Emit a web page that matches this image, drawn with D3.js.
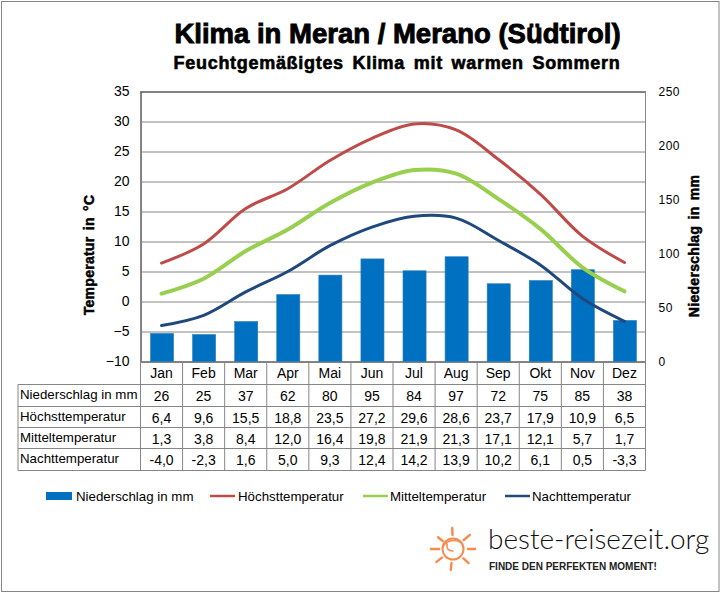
<!DOCTYPE html>
<html>
<head>
<meta charset="utf-8">
<style>
    body { margin: 0; background: #fff; }
    svg { display: block; }
    text { font-family: "Liberation Sans", Arial, sans-serif; fill: #000; }
    .axis path { display: none; }
    .grid line { stroke: #868686; stroke-width: 1px; }
    .grid text { display: none; }
    .cell { font-size: 14px; text-anchor: middle; }
    .rowname { font-size: 13.3px; }
    .axis-title { font-size: 14px; font-weight: bold; stroke: #000; stroke-width: 0.5px; letter-spacing: 0.3px; }
</style>
</head>
<body>
<script src="https://d3js.org/d3.v7.min.js"></script>
<script>
const W = 722, H = 594;
const plot = {left: 140.5, right: 645.5, top: 91.5, bottom: 361.5};

const months = ["Jan","Feb","Mar","Apr","Mai","Jun","Jul","Aug","Sep","Okt","Nov","Dez"];
const rows = [
    {name: "Niederschlag in mm", values: [26,25,37,62,80,95,84,97,72,75,85,38]},
    {name: "Höchsttemperatur", color: "#be4b48", width: 3, values: [6.4,9.6,15.5,18.8,23.5,27.2,29.6,28.6,23.7,17.9,10.9,6.5]},
    {name: "Mitteltemperatur", color: "#98cf4f", width: 4, values: [1.3,3.8,8.4,12.0,16.4,19.8,21.9,21.3,17.1,12.1,5.7,1.7]},
    {name: "Nachttemperatur", color: "#1f497d", width: 3, values: [-4.0,-2.3,1.6,5.0,9.3,12.4,14.2,13.9,10.2,6.1,0.5,-3.3]}
];
const rowY = [384.5, 406.5, 427.5, 448.5, 470.5];

const svg = d3.select("body").append("svg").attr("width", W).attr("height", H);

svg.append("rect").attr("x", 1.5).attr("y", 1.5).attr("width", 717.5).attr("height", 590)
    .attr("fill", "#fff").attr("stroke", "#868686");

// titles
svg.append("text").attr("x", 397.5).attr("y", 43).attr("text-anchor", "middle")
    .style("font-size", "27.5px").style("font-weight", "bold").style("stroke", "#000").style("stroke-width", "0.9px")
    .text("Klima in Meran / Merano (Südtirol)");
svg.append("text").attr("x", 397).attr("y", 69).attr("text-anchor", "middle")
    .style("font-size", "18px").style("font-weight", "bold").style("stroke", "#000").style("stroke-width", "0.6px")
    .style("letter-spacing", "0.7px").style("word-spacing", "3px")
    .text("Feuchtgemäßigtes Klima mit warmen Sommern");

// scales
const x = d3.scaleBand().domain(months).range([plot.left, plot.right]);
const yTemp = d3.scaleLinear().domain([-10, 35]).range([plot.bottom, plot.top]);
const yRain = d3.scaleLinear().domain([0, 250]).range([plot.bottom, plot.top]);

svg.append("g").attr("class", "grid")
    .attr("transform", `translate(${plot.left},0)`)
    .call(d3.axisLeft(yTemp).tickValues(d3.range(-10, 36, 5)).tickSize(-(plot.right - plot.left)));

svg.append("rect").attr("x", plot.left).attr("y", plot.top)
    .attr("width", plot.right - plot.left).attr("height", plot.bottom - plot.top)
    .attr("fill", "none").attr("stroke", "#868686");

// bars
svg.selectAll("rect.bar").data(rows[0].values).enter().append("rect")
    .attr("class", "bar")
    .attr("x", (d, i) => x(months[i]) + 10)
    .attr("width", x.bandwidth() - 19)
    .attr("y", d => yRain(d))
    .attr("height", d => yRain(0) - yRain(d))
    .attr("fill", "#0070c0")
    .attr("stroke", "#2c7fbd")
    .attr("stroke-width", 0.6);

// lines
const line = d3.line()
    .x((d, i) => x(months[i]) + x.bandwidth() / 2)
    .y(d => yTemp(d))
    .curve(d3.curveCatmullRom.alpha(0.5));

rows.slice(1).forEach(r => {
    svg.append("path").attr("d", line(r.values)).attr("fill", "none")
        .attr("stroke", r.color).attr("stroke-width", r.width).attr("stroke-linecap", "round");
});

// axes
const leftAxis = svg.append("g").attr("class", "axis")
    .attr("transform", `translate(${plot.left},0)`)
    .call(d3.axisLeft(yTemp).tickValues(d3.range(-10, 36, 5)).tickSize(0).tickPadding(11));
leftAxis.selectAll("text").style("font-size", "14px").style("font-family", "'Liberation Sans'");

const rightAxis = svg.append("g").attr("class", "axis")
    .attr("transform", `translate(${plot.right},0)`)
    .call(d3.axisRight(yRain).tickValues(d3.range(0, 251, 50)).tickSize(0).tickPadding(13));
rightAxis.selectAll("text").style("font-size", "12px").style("font-family", "'Liberation Sans'").style("letter-spacing", "0.5px");

svg.append("text").attr("class", "axis-title")
    .attr("transform", "translate(94,255) rotate(-90)").attr("text-anchor", "middle")
    .attr("word-spacing", "2px").text("Temperatur in °C");
svg.append("text").attr("class", "axis-title")
    .attr("transform", "translate(699,246) rotate(-90)").attr("text-anchor", "middle")
    .attr("word-spacing", "2px").text("Niederschlag in mm");

// table
const tableLine = (x1, y1, x2, y2) => svg.append("line")
    .attr("x1", x1).attr("y1", y1).attr("x2", x2).attr("y2", y2)
    .attr("stroke", "#868686").attr("stroke-width", 1);

rowY.forEach(y => tableLine(18, y, plot.right, y));
tableLine(18, rowY[0], 18, rowY[4]);
tableLine(plot.left, plot.bottom, plot.left, rowY[4]);
months.forEach(m => tableLine(x(m) + x.bandwidth(), plot.bottom, x(m) + x.bandwidth(), rowY[4]));

svg.selectAll("text.month").data(months).enter().append("text")
    .attr("class", "cell")
    .attr("x", d => x(d) + x.bandwidth() / 2)
    .attr("y", 378)
    .text(d => d);

rows.forEach((r, j) => {
    svg.append("text").attr("class", "rowname").attr("x", 20).attr("y", rowY[j] + 14).text(r.name);
    r.values.forEach((v, i) => {
        svg.append("text").attr("class", "cell")
            .attr("x", x(months[i]) + x.bandwidth() / 2)
            .attr("y", rowY[j] + 16)
            .text(j == 0 ? v : v.toFixed(1).replace(".", ","));
    });
});

// legend
const legend = [
    {x: 46, textX: 76, row: rows[0]},
    {x: 210, textX: 238, row: rows[1]},
    {x: 363, textX: 390, row: rows[2]},
    {x: 505, textX: 532, row: rows[3]}
];
legend.forEach((l, i) => {
    if (i == 0) {
        svg.append("rect").attr("x", l.x).attr("y", 492).attr("width", 26).attr("height", 8).attr("fill", "#0070c0");
    } else {
        svg.append("line").attr("x1", l.x).attr("x2", l.x + 25).attr("y1", 496).attr("y2", 496)
            .attr("stroke", l.row.color).attr("stroke-width", 2.5);
    }
    svg.append("text").attr("x", l.textX).attr("y", 501).style("font-size", "13.3px").text(l.row.name);
});

// logo
const sun = svg.append("g").attr("transform", "translate(453,549)")
    .attr("stroke", "#f58b4c").attr("fill", "none").attr("stroke-linecap", "round");
sun.append("circle").attr("r", 10.5).attr("stroke-width", 2);
sun.append("path").attr("d", "M-9,-4 Q-2,-11 7,-7 M-6,-5 Q-7,2 0,2").attr("stroke-width", 1.6);
const rays = [[-92,14,21],[-40,14,22],[0,15,22],[42,14,21],[96,14,21],[142,14,21],[180,14,22],[-142,13,19]];
rays.forEach(r => {
    const a = r[0] * Math.PI / 180;
    sun.append("line")
        .attr("x1", Math.cos(a) * r[1]).attr("y1", Math.sin(a) * r[1])
        .attr("x2", Math.cos(a) * r[2]).attr("y2", Math.sin(a) * r[2])
        .attr("stroke-width", 2.4);
});

svg.append("text").attr("x", 488).attr("y", 549)
    .style("font-family", "Lato").style("font-weight", "300").style("font-size", "28px").style("fill", "#111")
    .text("beste-reisezeit.org");
svg.append("text").attr("x", 489).attr("y", 570)
    .style("font-size", "10px").style("font-weight", "bold").style("fill", "#222")
    .text("FINDE DEN PERFEKTEN MOMENT!");
</script>
</body>
</html>
